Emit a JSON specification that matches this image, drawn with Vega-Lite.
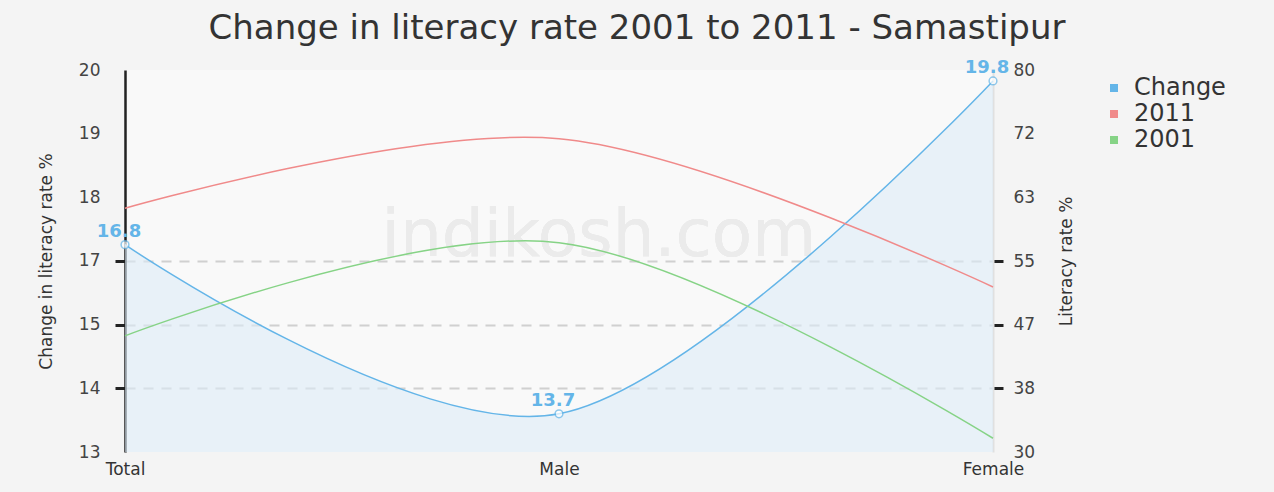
{
  "$schema": "https://vega.github.io/schema/vega-lite/v6.json",
  "autosize": "none",
  "width": 868,
  "height": 382,
  "padding": {"left": 125, "top": 70, "right": 281, "bottom": 40},
  "background": "#f4f4f4",
  "view": {"fill": "#f9f9f9", "stroke": null},
  "title": {
    "text": "Change in literacy rate 2001 to 2011 - Samastipur",
    "font": "DejaVu Sans",
    "fontSize": 34,
    "fontWeight": "normal",
    "color": "#333333",
    "anchor": "middle",
    "dx": 78,
    "offset": 13
  },
  "config": {
    "font": "DejaVu Sans",
    "axis": {"labelFont": "DejaVu Sans", "titleFont": "DejaVu Sans"}
  },
  "data": {
    "values": [
      {"category": "Total", "series": "Change", "value": 16.8, "label": "16.8"},
      {"category": "Male", "series": "Change", "value": 13.7, "label": "13.7"},
      {"category": "Female", "series": "Change", "value": 19.8, "label": "19.8"},
      {"category": "Total", "series": "2011", "value": 61.9},
      {"category": "Male", "series": "2011", "value": 71.0},
      {"category": "Female", "series": "2011", "value": 51.6},
      {"category": "Total", "series": "2001", "value": 45.2},
      {"category": "Male", "series": "2001", "value": 57.4},
      {"category": "Female", "series": "2001", "value": 31.8}
    ]
  },
  "encoding": {
    "x": {
      "field": "category",
      "type": "nominal",
      "sort": ["Total", "Male", "Female"],
      "scale": {"type": "point", "padding": 0},
      "axis": {
        "title": null,
        "labelAngle": 0,
        "domain": false,
        "ticks": false,
        "labelFontSize": 17,
        "labelColor": "#333333",
        "labelPadding": 9
      }
    }
  },
  "layer": [
    {
      "transform": [{"filter": "datum.series === 'Change'"}],
      "layer": [
        {
          "mark": {"type": "text", "fontSize": 66, "color": "#ebebeb", "dx": 40, "text": "indikosh.com"},
          "encoding": {
            "x": {"datum": "Male"},
            "y": {"datum": 16.95, "type": "quantitative", "scale": {"domain": [13, 20], "zero": false, "nice": false}}
          }
        },
        {
          "mark": {"type": "area", "interpolate": "cardinal", "color": "#dcebf7", "opacity": 0.6, "clip": true},
          "encoding": {
            "y": {
              "field": "value",
              "type": "quantitative",
              "scale": {"domain": [13, 20], "zero": false, "nice": false},
              "axis": {
                "orient": "left",
                "title": "Change in literacy rate %",
                "titleFontSize": 17,
                "titleFontWeight": "normal",
                "titleColor": "#333333",
                "titlePadding": 23,
                "values": [13, 14.1667, 15.3333, 16.5001, 17.6667, 18.8333, 20],
                "format": ".0f",
                "labelFontSize": 17,
                "labelColor": "#444444",
                "labelPadding": 15,
                "tickSize": 10,
                "tickWidth": 3,
                "tickColor": "#222222",
                "tickOpacity": {"condition": {"test": "datum.value > 13.5 && datum.value < 17", "value": 1}, "value": 0},
                "domainColor": "#222222",
                "domainWidth": 2.5,
                "grid": true,
                "gridColor": "#d0d0d0",
                "gridDash": [10, 8],
                "gridWidth": 2,
                "gridOpacity": {"condition": {"test": "datum.value > 13.5 && datum.value < 17", "value": 1}, "value": 0}
              }
            }
          }
        },
        {
          "mark": {"type": "line", "interpolate": "cardinal", "strokeWidth": 1.5},
          "encoding": {
            "y": {"field": "value", "type": "quantitative"},
            "color": {
              "field": "series",
              "type": "nominal",
              "scale": {"domain": ["Change", "2011", "2001"], "range": ["#64b5e8", "#f08a8a", "#86d386"]},
              "legend": {
                "title": null,
                "orient": "none",
                "legendX": 977,
                "legendY": 6,
                "symbolType": "square",
                "symbolSize": 64,
                "labelFontSize": 24,
                "labelColor": "#333333",
                "rowPadding": 2,
                "labelOffset": 8,
                "encode": {"symbols": {"update": {"fill": {"scale": "color", "field": "value"}, "strokeWidth": {"value": 0}}}}
              }
            }
          }
        },
        {
          "mark": {"type": "point", "filled": true, "fill": "#ffffff", "stroke": "#64b5e8", "strokeWidth": 1.5, "size": 60},
          "encoding": {"y": {"field": "value", "type": "quantitative"}}
        },
        {
          "mark": {"type": "text", "fontSize": 18, "fontWeight": "bold", "color": "#64b5e8", "dy": -13, "dx": -6},
          "encoding": {
            "y": {"field": "value", "type": "quantitative"},
            "text": {"field": "label"}
          }
        }
      ]
    },
    {
      "transform": [{"filter": "datum.series !== 'Change'"}],
      "mark": {"type": "line", "interpolate": "cardinal", "strokeWidth": 1.5},
      "encoding": {
        "y": {
          "field": "value",
          "type": "quantitative",
          "scale": {"domain": [30, 80], "zero": false, "nice": false},
          "axis": {
            "orient": "right",
            "title": "Literacy rate %",
            "titleFontSize": 17,
            "titleFontWeight": "normal",
            "titleColor": "#333333",
            "titleAngle": 270,
            "titleBaseline": "top",
            "titlePadding": 24,
            "values": [30, 38.3333, 46.6667, 55, 63.3333, 71.6667, 80],
            "format": ".0f",
            "labelFontSize": 17,
            "labelColor": "#444444",
            "labelPadding": 10,
            "tickSize": 10,
            "tickWidth": 3,
            "tickColor": "#222222",
            "tickOpacity": {"condition": {"test": "datum.value > 35 && datum.value < 60", "value": 1}, "value": 0},
            "domainColor": "#e0e0e0",
            "domainWidth": 2,
            "grid": false
          }
        },
        "color": {"field": "series", "type": "nominal"},
        "detail": {"field": "series"}
      }
    }
  ],
  "resolve": {"scale": {"y": "independent"}, "axis": {"y": "independent"}}
}
